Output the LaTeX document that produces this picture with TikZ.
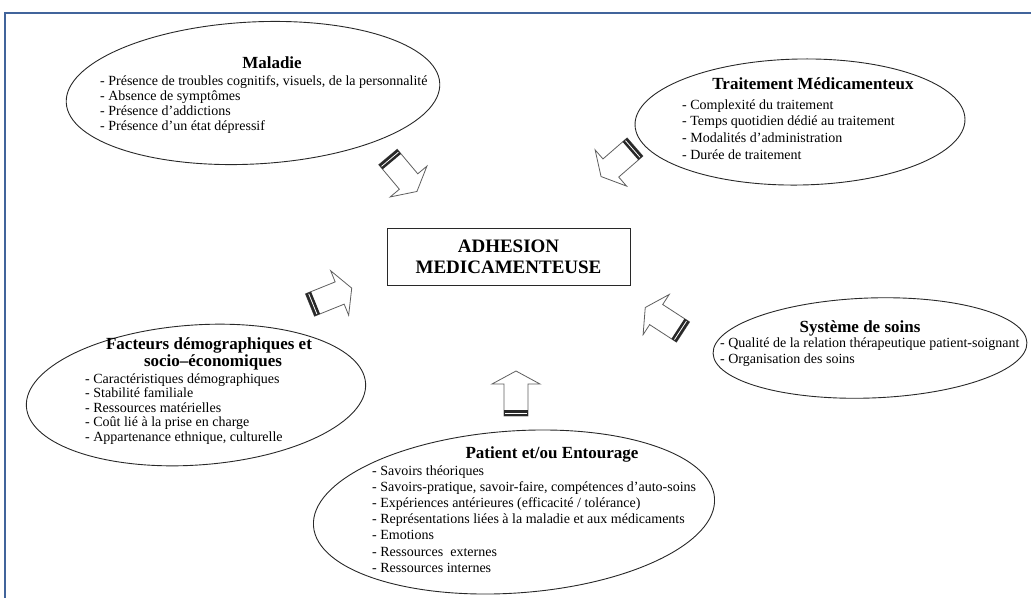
\documentclass[tikz,border=0pt]{standalone}
\usepackage{fontspec}
\setmainfont{Liberation Serif}
\usetikzlibrary{shapes.geometric}
\definecolor{framec}{RGB}{65,100,155}
\definecolor{inkc}{RGB}{40,40,40}
\definecolor{arrowc}{RGB}{95,95,95}

\tikzset{
  oval/.style={draw=inkc, line width=0.9pt, ellipse, inner sep=0pt},
  ttl/.style={font=\fontsize{17}{19}\selectfont\bfseries, inner sep=0pt, anchor=base},
  itm/.style={font=\fontsize{14}{16}\selectfont, inner sep=0pt, anchor=base west},
  hub/.style={draw=inkc, line width=1pt, minimum width=243pt, minimum height=57pt,
    align=center, font=\fontsize{19}{21}\selectfont\bfseries, inner sep=0pt},
  pics/fatarrow/.style={code={
    \draw[draw=arrowc, fill=white, line width=0.8pt, line join=miter]
      (0,-12) -- (32,-12) -- (32,-24) -- (45,0) -- (32,24) -- (32,12) -- (0,12) -- cycle;
    \fill[inkc] (0,-12) rectangle (6,12);
    \draw[white, line width=0.8pt] (3,-11) -- (3,11);
  }}
}

\begin{document}
\begin{tikzpicture}[x=1pt, y=-1pt]
\useasboundingbox (0,0) rectangle (1031,598);

% outer frame (only top and left edges fall inside the page)
\draw[framec, line width=1.5pt] (1031,13) -- (5,13) -- (5,598);

% central box
\node[hub] (hub) at (508.5,256.5) {ADHESION\\MEDICAMENTEUSE};

% factor ellipses
\node[oval, minimum width=374pt, minimum height=142pt, rotate=3] (maladie) at (253,93) {};
\node[oval, minimum width=330pt, minimum height=126pt, rotate=1] (traitement) at (800,122) {};
\node[oval, minimum width=340pt, minimum height=140pt, rotate=4] (facteurs) at (196,395) {};
\node[oval, minimum width=314pt, minimum height=100pt, rotate=2] (systeme) at (870,348) {};
\node[oval, minimum width=402pt, minimum height=162pt, rotate=4] (patient) at (514,512) {};

% Maladie
\node[ttl] (maladie-t) at (272,68) {Maladie};
\foreach \t [count=\i from 0] in {{Présence de troubles cognitifs, visuels, de la personnalité},
  {Absence de symptômes}, {Présence d’addictions}, {Présence d’un état dépressif}}
  \node[itm] (maladie-\i) at (100,{85+15*\i}) {- \t};

% Traitement
\node[ttl] (traitement-t) at (813,89) {Traitement Médicamenteux};
\foreach \t [count=\i from 0] in {{Complexité du traitement},
  {Temps quotidien dédié au traitement}, {Modalités d’administration}, {Durée de traitement}}
  \node[itm] (traitement-\i) at (682,{109+16.7*\i}) {- \t};

% Systeme
\node[ttl] (systeme-t) at (860,332) {Système de soins};
\foreach \t [count=\i from 0] in {{Qualité de la relation thérapeutique patient-soignant},
  {Organisation des soins}}
  \node[itm] (systeme-\i) at (720,{347+16*\i}) {- \t};

% Facteurs
\node[ttl] (facteurs-t1) at (209,349) {Facteurs démographiques et};
\node[ttl] (facteurs-t2) at (213,366) {socio–économiques};
\foreach \t [count=\i from 0] in {{Caractéristiques démographiques}, {Stabilité familiale},
  {Ressources matérielles}, {Coût lié à la prise en charge}, {Appartenance ethnique, culturelle}}
  \node[itm] (facteurs-\i) at (85,{383+14.5*\i}) {- \t};

% Patient
\node[ttl] (patient-t) at (552,458) {Patient et/ou Entourage};
\foreach \t [count=\i from 0] in {{Savoirs théoriques},
  {Savoirs-pratique, savoir-faire, compétences d’auto-soins},
  {Expériences antérieures (efficacité / tolérance)},
  {Représentations liées à la maladie et aux médicaments},
  {Emotions}, {Ressources\ \ externes}, {Ressources internes}}
  \node[itm] (patient-\i) at (372,{475+16.2*\i}) {- \t};

% block arrows pointing at the central box
\pic[rotate=-50] (a-maladie) at (388,157) {fatarrow};
\pic[rotate=-139] (a-traitement) at (635,147) {fatarrow};
\pic[rotate=22] (a-facteurs) at (310,305) {fatarrow};
\pic[rotate=147] (a-systeme) at (683,332) {fatarrow};
\pic[rotate=90] (a-patient) at (516,416) {fatarrow};
\end{tikzpicture}
\end{document}
